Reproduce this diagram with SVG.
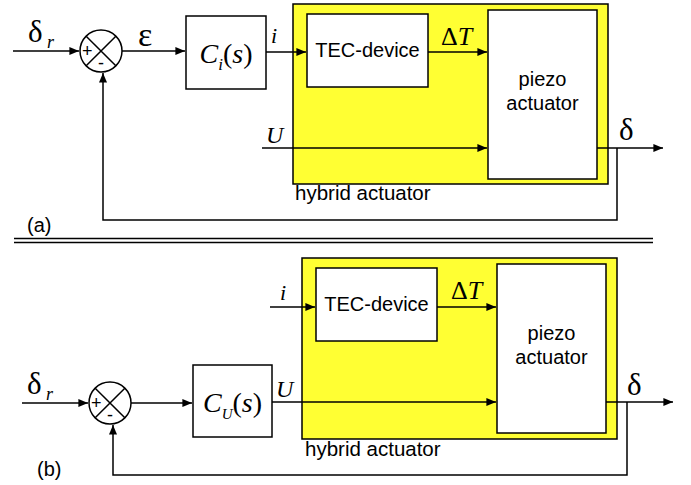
<svg xmlns="http://www.w3.org/2000/svg" width="691" height="485" viewBox="0 0 691 485">
<defs>
<marker id="ah" viewBox="0 0 12 10" refX="12" refY="5" markerWidth="12" markerHeight="8" markerUnits="userSpaceOnUse" orient="auto"><path d="M0,0 L12,5 L0,10 z" fill="#000"/></marker>
<style>
.ln{fill:none;stroke:#000;stroke-width:1.5}
.ar{fill:none;stroke:#000;stroke-width:1.5;marker-end:url(#ah)}
.box{fill:#fff;stroke:#000;stroke-width:1.5}
.yel{fill:#ffff33;stroke:#000;stroke-width:1.5}
.sans{font-family:"Liberation Sans",Arial,sans-serif;fill:#000}
.ser{font-family:"Liberation Serif","Times New Roman",serif;fill:#000}
.it{font-style:italic}
</style>
</defs>
<rect width="691" height="485" fill="#fff"/>

<!-- Panel (a) -->
<g id="hybrid-a">
<rect class="yel" x="293" y="4" width="315" height="180"/>
<text class="sans" x="295" y="200" font-size="20.5">hybrid actuator</text>
</g>
<g id="sum-a">
<circle class="box" cx="101" cy="51" r="21"/>
<path class="ln" d="M86.2,36.2 L115.8,65.8 M86.2,65.8 L115.8,36.2"/>
<text class="sans" x="82" y="57" font-size="18">+</text>
<text class="sans" x="98" y="69" font-size="18">-</text>
</g>
<g id="ctrl-a">
<rect class="box" x="186" y="16" width="80" height="73"/>
<text class="ser" x="226" y="63" font-size="28" text-anchor="middle"><tspan class="it">C</tspan><tspan class="it" font-size="17" dy="7">i</tspan><tspan dy="-7">(</tspan><tspan class="it">s</tspan>)</text>
</g>
<g id="tec-a">
<rect class="box" x="307" y="14" width="121" height="73"/>
<text class="sans" x="367.5" y="57" font-size="20" text-anchor="middle">TEC-device</text>
</g>
<g id="piezo-a">
<rect class="box" x="488" y="10" width="109" height="169"/>
<text class="sans" x="542.5" y="86" font-size="20" text-anchor="middle">piezo</text>
<text class="sans" x="542.5" y="110" font-size="20" text-anchor="middle">actuator</text>
</g>
<g id="labels-a">
<text class="ser" x="28" y="42" font-size="31">δ</text>
<text class="ser it" x="47" y="48" font-size="18">r</text>
<text class="ser" x="138" y="46" font-size="34">ε</text>
<text class="ser it" x="271" y="43" font-size="22">i</text>
<text class="ser" x="441" y="45" font-size="26">Δ<tspan class="it">T</tspan></text>
<text class="ser it" x="266" y="143" font-size="24">U</text>
<text class="ser" x="619" y="140" font-size="31">δ</text>
<text class="sans" x="27" y="232" font-size="20">(a)</text>
</g>
<g id="connectors-a">
<path class="ar" d="M13,51 H79"/>
<path class="ar" d="M122,51 H185"/>
<path class="ar" d="M266,52 H306"/>
<path class="ar" d="M428,52 H487"/>
<path class="ar" d="M262,148 H487"/>
<path class="ar" d="M597,148 H663"/>
<path class="ar" d="M617,148 V220 H103 V73"/>
</g>

<!-- separator -->
<g id="separator">
<path class="ln" d="M14,238.5 H653 M14,242.5 H653"/>
</g>

<!-- Panel (b) -->
<g id="hybrid-b">
<rect class="yel" x="302" y="258" width="315" height="181"/>
<text class="sans" x="305" y="456" font-size="20.5">hybrid actuator</text>
</g>
<g id="sum-b">
<circle class="box" cx="110" cy="403" r="21"/>
<path class="ln" d="M95.2,388.2 L124.8,417.8 M95.2,417.8 L124.8,388.2"/>
<text class="sans" x="91" y="409" font-size="18">+</text>
<text class="sans" x="107" y="421" font-size="18">-</text>
</g>
<g id="ctrl-b">
<rect class="box" x="193" y="365" width="79" height="72"/>
<text class="ser" x="232.5" y="412" font-size="28" text-anchor="middle"><tspan class="it">C</tspan><tspan class="it" font-size="15" dy="7">U</tspan><tspan dy="-7">(</tspan><tspan class="it">s</tspan>)</text>
</g>
<g id="tec-b">
<rect class="box" x="316" y="268" width="121" height="73"/>
<text class="sans" x="376.5" y="311" font-size="20" text-anchor="middle">TEC-device</text>
</g>
<g id="piezo-b">
<rect class="box" x="497" y="264" width="109" height="169"/>
<text class="sans" x="551.5" y="340" font-size="20" text-anchor="middle">piezo</text>
<text class="sans" x="551.5" y="364" font-size="20" text-anchor="middle">actuator</text>
</g>
<g id="labels-b">
<text class="ser" x="27" y="394" font-size="31">δ</text>
<text class="ser it" x="46" y="400" font-size="18">r</text>
<text class="ser it" x="280" y="300" font-size="22">i</text>
<text class="ser" x="451" y="299" font-size="26">Δ<tspan class="it">T</tspan></text>
<text class="ser it" x="276" y="397" font-size="24">U</text>
<text class="ser" x="627" y="395" font-size="31">δ</text>
<text class="sans" x="37" y="476" font-size="20">(b)</text>
</g>
<g id="connectors-b">
<path class="ar" d="M270,307 H315"/>
<path class="ar" d="M22,403 H88"/>
<path class="ar" d="M131,403 H192"/>
<path class="ar" d="M437,307 H496"/>
<path class="ar" d="M272,402 H496"/>
<path class="ar" d="M606,402 H673"/>
<path class="ar" d="M627,402 V475 H113 V425"/>
</g>
</svg>
